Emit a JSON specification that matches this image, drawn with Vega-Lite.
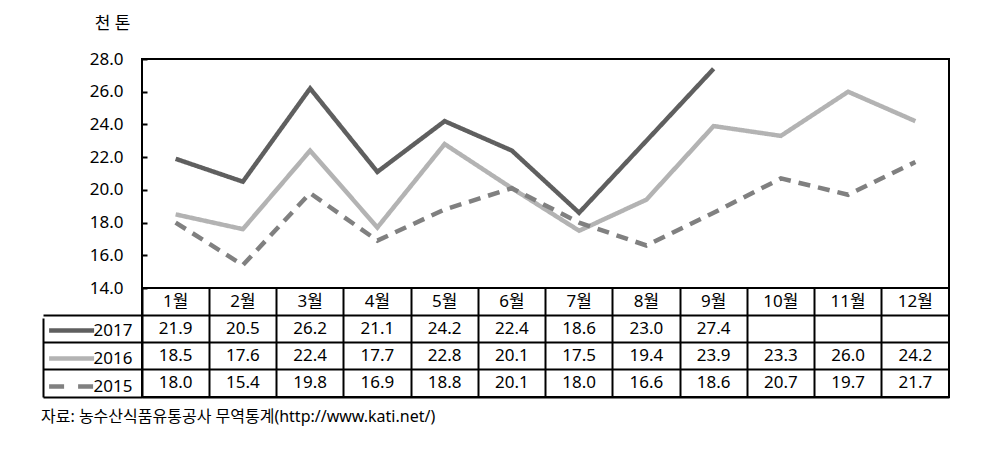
{
  "$schema": "https://vega.github.io/schema/vega-lite/v6.json",
  "padding": {"left": 41, "top": 13, "right": 10, "bottom": 10},
  "background": "#ffffff",
  "bounds": "flush",
  "config": {
    "font": "Noto Sans, Noto Sans CJK KR",
    "view": {"stroke": "#000000", "strokeWidth": 2}
  },
  "datasets": {
    "series": [
      {"month": "1월", "year": "2017", "value": 21.9},
      {"month": "2월", "year": "2017", "value": 20.5},
      {"month": "3월", "year": "2017", "value": 26.2},
      {"month": "4월", "year": "2017", "value": 21.1},
      {"month": "5월", "year": "2017", "value": 24.2},
      {"month": "6월", "year": "2017", "value": 22.4},
      {"month": "7월", "year": "2017", "value": 18.6},
      {"month": "8월", "year": "2017", "value": 23.0},
      {"month": "9월", "year": "2017", "value": 27.4},
      {"month": "1월", "year": "2016", "value": 18.5},
      {"month": "2월", "year": "2016", "value": 17.6},
      {"month": "3월", "year": "2016", "value": 22.4},
      {"month": "4월", "year": "2016", "value": 17.7},
      {"month": "5월", "year": "2016", "value": 22.8},
      {"month": "6월", "year": "2016", "value": 20.1},
      {"month": "7월", "year": "2016", "value": 17.5},
      {"month": "8월", "year": "2016", "value": 19.4},
      {"month": "9월", "year": "2016", "value": 23.9},
      {"month": "10월", "year": "2016", "value": 23.3},
      {"month": "11월", "year": "2016", "value": 26.0},
      {"month": "12월", "year": "2016", "value": 24.2},
      {"month": "1월", "year": "2015", "value": 18.0},
      {"month": "2월", "year": "2015", "value": 15.4},
      {"month": "3월", "year": "2015", "value": 19.8},
      {"month": "4월", "year": "2015", "value": 16.9},
      {"month": "5월", "year": "2015", "value": 18.8},
      {"month": "6월", "year": "2015", "value": 20.1},
      {"month": "7월", "year": "2015", "value": 18.0},
      {"month": "8월", "year": "2015", "value": 16.6},
      {"month": "9월", "year": "2015", "value": 18.6},
      {"month": "10월", "year": "2015", "value": 20.7},
      {"month": "11월", "year": "2015", "value": 19.7},
      {"month": "12월", "year": "2015", "value": 21.7}
    ],
    "months": [
      {"month": "1월"}, {"month": "2월"}, {"month": "3월"}, {"month": "4월"},
      {"month": "5월"}, {"month": "6월"}, {"month": "7월"}, {"month": "8월"},
      {"month": "9월"}, {"month": "10월"}, {"month": "11월"}, {"month": "12월"}
    ]
  },
  "title": {
    "text": "자료: 농수산식품유통공사 무역통계(http://www.kati.net/)",
    "orient": "bottom",
    "anchor": "start",
    "fontSize": 16,
    "fontWeight": "normal",
    "color": "#000000",
    "offset": 10
  },
  "spacing": 0,
  "resolve": {"scale": {"x": "independent", "y": "independent", "color": "independent", "strokeDash": "independent"}},
  "vconcat": [
    {
      "width": 807,
      "height": 229,
      "data": {"name": "series"},
      "mark": {"type": "line", "strokeWidth": 4.5, "strokeJoin": "miter"},
      "encoding": {
        "x": {
          "field": "month", "type": "ordinal",
          "sort": ["1월", "2월", "3월", "4월", "5월", "6월", "7월", "8월", "9월", "10월", "11월", "12월"],
          "scale": {"type": "point", "padding": 0.5},
          "axis": null
        },
        "y": {
          "field": "value", "type": "quantitative",
          "scale": {"domain": [14, 28], "nice": false, "zero": false},
          "axis": {
            "values": [14, 16, 18, 20, 22, 24, 26, 28],
            "format": ".1f",
            "grid": false,
            "domain": false,
            "tickSize": -5,
            "tickColor": "#000000",
            "tickWidth": 2,
            "labelPadding": 24,
            "labelFontSize": 17,
            "labelColor": "#000000",
            "title": "천 톤",
            "titleAngle": 0,
            "titleAlign": "center",
            "titleBaseline": "middle",
            "titleX": -30,
            "titleY": -36,
            "titleFontSize": 17,
            "titleFontWeight": "normal",
            "titleColor": "#000000"
          }
        },
        "color": {
          "field": "year", "type": "nominal",
          "scale": {"domain": ["2015", "2016", "2017"], "range": ["#808080", "#b3b3b3", "#5f5f5f"]},
          "legend": null
        },
        "strokeDash": {
          "field": "year", "type": "nominal",
          "scale": {"domain": ["2015", "2016", "2017"], "range": [[12, 8], [1, 0], [1, 0]]},
          "legend": null
        }
      }
    },
    {
      "width": 807,
      "height": 109,
      "layer": [
        {
          "data": {"name": "series"},
          "mark": {"type": "text", "fontSize": 17, "color": "#000000"},
          "encoding": {
            "x": {
              "field": "month", "type": "ordinal",
              "sort": ["1월", "2월", "3월", "4월", "5월", "6월", "7월", "8월", "9월", "10월", "11월", "12월"],
              "scale": {"type": "band", "paddingInner": 0, "paddingOuter": 0},
              "axis": {"bandPosition": 0, "grid": true, "gridColor": "#000000", "gridWidth": 2, "ticks": false, "labels": false, "domain": false, "title": null}
            },
            "y": {
              "field": "year", "type": "ordinal",
              "scale": {"type": "band", "domain": ["header", "2017", "2016", "2015"], "paddingInner": 0, "paddingOuter": 0},
              "axis": {
                "orient": "left", "offset": 99, "bandPosition": 1,
                "grid": true, "gridColor": "#000000", "gridWidth": 2,
                "ticks": true, "tickSize": -99, "tickColor": "#000000", "tickWidth": 2,
                "labels": false,
                "domain": true, "domainColor": "#000000", "domainWidth": 2,
                "domainDash": [79, 30], "domainDashOffset": 79,
                "title": null
              }
            },
            "text": {"field": "value", "type": "quantitative", "format": ".1f"}
          }
        },
        {
          "data": {"name": "months"},
          "mark": {"type": "text", "fontSize": 17, "color": "#000000"},
          "encoding": {
            "x": {
              "field": "month", "type": "ordinal",
              "sort": ["1월", "2월", "3월", "4월", "5월", "6월", "7월", "8월", "9월", "10월", "11월", "12월"]
            },
            "y": {"datum": "header", "type": "ordinal"},
            "text": {"field": "month"}
          }
        },
        {
          "data": {"name": "series"},
          "mark": {"type": "rule", "strokeWidth": 4.5},
          "encoding": {
            "y": {"field": "year", "type": "ordinal"},
            "opacity": {"value": 0},
            "color": {
              "field": "year", "type": "nominal",
              "scale": {"domain": ["2017", "2016", "2015"], "range": ["#5f5f5f", "#b3b3b3", "#808080"]},
              "legend": {
                "orient": "none", "legendX": -78, "legendY": 34, "title": null,
                "symbolType": "M-3.9,0H3.6", "symbolSize": 144, "symbolStrokeWidth": 4.5,
                "labelOffset": 12.5, "labelFontSize": 17, "labelColor": "#000000",
                "rowPadding": 9, "padding": 0
              }
            },
            "strokeDash": {
              "field": "year", "type": "nominal",
              "scale": {"domain": ["2017", "2016", "2015"], "range": [[1, 0], [1, 0], [15, 14]]},
              "legend": {
                "orient": "none", "legendX": -78, "legendY": 34, "title": null,
                "symbolType": "M-3.9,0H3.6", "symbolSize": 144, "symbolStrokeWidth": 4.5,
                "labelOffset": 12.5, "labelFontSize": 17, "labelColor": "#000000",
                "rowPadding": 9, "padding": 0
              }
            }
          }
        }
      ]
    }
  ]
}
